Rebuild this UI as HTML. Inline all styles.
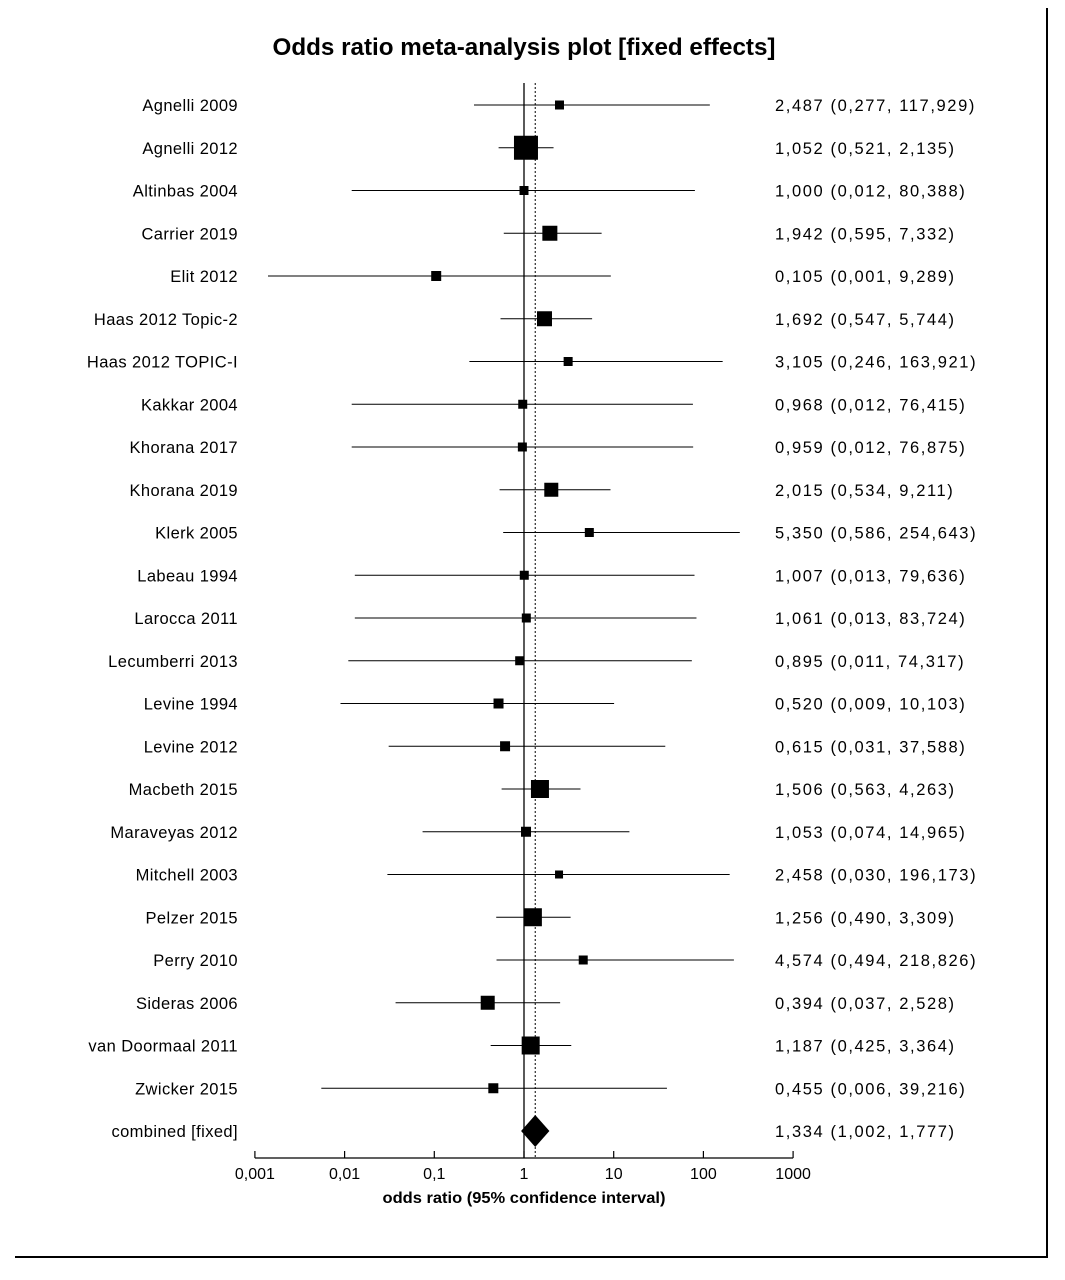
<!DOCTYPE html>
<html><head><meta charset="utf-8"><style>
body{margin:0;background:#fff;}
svg{display:block;font-family:"Liberation Sans",sans-serif;}
</style></head><body>
<svg id="chart" width="1065" height="1280">
<line x1="1047" y1="8" x2="1047" y2="1258" stroke="#000" stroke-width="2"/>
<line x1="15" y1="1257" x2="1047" y2="1257" stroke="#000" stroke-width="2"/>
<text x="524" y="55" text-anchor="middle" font-size="24" font-weight="bold" textLength="503" lengthAdjust="spacingAndGlyphs">Odds ratio meta-analysis plot [fixed effects]</text>
<text x="524" y="1203" text-anchor="middle" font-size="16" font-weight="bold" textLength="283" lengthAdjust="spacingAndGlyphs">odds ratio (95% confidence interval)</text>
</svg>
<script>
const studies=["Agnelli 2009","Agnelli 2012","Altinbas 2004","Carrier 2019","Elit 2012","Haas 2012 Topic-2","Haas 2012 TOPIC-I","Kakkar 2004","Khorana 2017","Khorana 2019","Klerk 2005","Labeau 1994","Larocca 2011","Lecumberri 2013","Levine 1994","Levine 2012","Macbeth 2015","Maraveyas 2012","Mitchell 2003","Pelzer 2015","Perry 2010","Sideras 2006","van Doormaal 2011","Zwicker 2015"];
const orVals=[2.487,1.052,1.000,1.942,0.105,1.692,3.105,0.968,0.959,2.015,5.350,1.007,1.061,0.895,0.520,0.615,1.506,1.053,2.458,1.256,4.574,0.394,1.187,0.455];
const loVals=[0.277,0.521,0.012,0.595,0.0014,0.547,0.246,0.012,0.012,0.534,0.586,0.013,0.013,0.011,0.009,0.031,0.563,0.074,0.030,0.490,0.494,0.037,0.425,0.0055];
const hiVals=[117.929,2.135,80.388,7.332,9.289,5.744,163.921,76.415,76.875,9.211,254.643,79.636,83.724,74.317,10.103,37.588,4.263,14.965,196.173,3.309,218.826,2.528,3.364,39.216];
const loLabels=["0,277","0,521","0,012","0,595","0,001","0,547","0,246","0,012","0,012","0,534","0,586","0,013","0,013","0,011","0,009","0,031","0,563","0,074","0,030","0,490","0,494","0,037","0,425","0,006"];
const weights=[9,24,9,15,10,15,9,9,9,14,9,9,9,9,10,10,18,10,8,18,9,14,18,10];
const combined=[1.334,1.002,1.777];
const tickVals=[0.001,0.01,0.1,1,10,100,1000];
const tickLabels=["0,001","0,01","0,1","1","10","100","1000"];
const NS="http://www.w3.org/2000/svg",svg=document.getElementById('chart');
const x=v=>524+89.7*Math.log10(v);
const y=i=>105+i*42.75;
const fmt=v=>v.toFixed(3).replace('.',',');
function mk(t,a){const e=document.createElementNS(NS,t);for(const k in a)e.setAttribute(k,a[k]);svg.appendChild(e);return e;}
const axisY=1158;
let e=mk('line',{x1:x(1),y1:83,x2:x(1),y2:axisY,stroke:'#000','stroke-width':1.3});


e=mk('line',{x1:x(combined[0]),y1:83,x2:x(combined[0]),y2:axisY,stroke:'#000','stroke-width':1,'stroke-dasharray':'2,2'});


e=mk('line',{x1:x(0.001),y1:axisY,x2:x(1000),y2:axisY,stroke:'#000','stroke-width':1.3});


tickVals.forEach((v,i)=>{
 e=mk('line',{x1:x(v),y1:axisY,x2:x(v),y2:axisY-7,stroke:'#000','stroke-width':1.2});
 
 
 e=mk('text',{x:x(v),y:axisY+21,'text-anchor':'middle','font-size':16});
 e.textContent=tickLabels[i];
 
 
});
function valText(txt,yy,name){
 e=mk('text',{x:775,y:yy+6,'font-size':16.5,'letter-spacing':1.6});
 e.textContent=txt;
 
 
}
studies.forEach((s,i)=>{
 const yy=y(i);
 e=mk('text',{x:238,y:yy+6,'text-anchor':'end','font-size':16.5,'letter-spacing':0.4});e.textContent=s;
 
 
 e=mk('line',{x1:x(loVals[i]),y1:yy,x2:x(hiVals[i]),y2:yy,stroke:'#000','stroke-width':1});
 
 
 const w=weights[i];
 e=mk('rect',{x:x(orVals[i])-w/2,y:yy-w/2,width:w,height:w,fill:'#000'});
 
 
 valText(fmt(orVals[i])+' ('+loLabels[i]+', '+fmt(hiVals[i])+')',yy,'study-ci-value');
});
const cy=y(24);
e=mk('text',{x:238,y:cy+6,'text-anchor':'end','font-size':16.5,'letter-spacing':0.4});e.textContent='combined [fixed]';


const cx=x(combined[0]),pad=3;
e=mk('polygon',{points:`${x(combined[1])-pad},${cy} ${cx},${cy-16} ${x(combined[2])+pad},${cy} ${cx},${cy+16}`,fill:'#000'});


valText(fmt(combined[0])+' ('+fmt(combined[1])+', '+fmt(combined[2])+')',cy,'combined-ci-value');
</script>
</body></html>
